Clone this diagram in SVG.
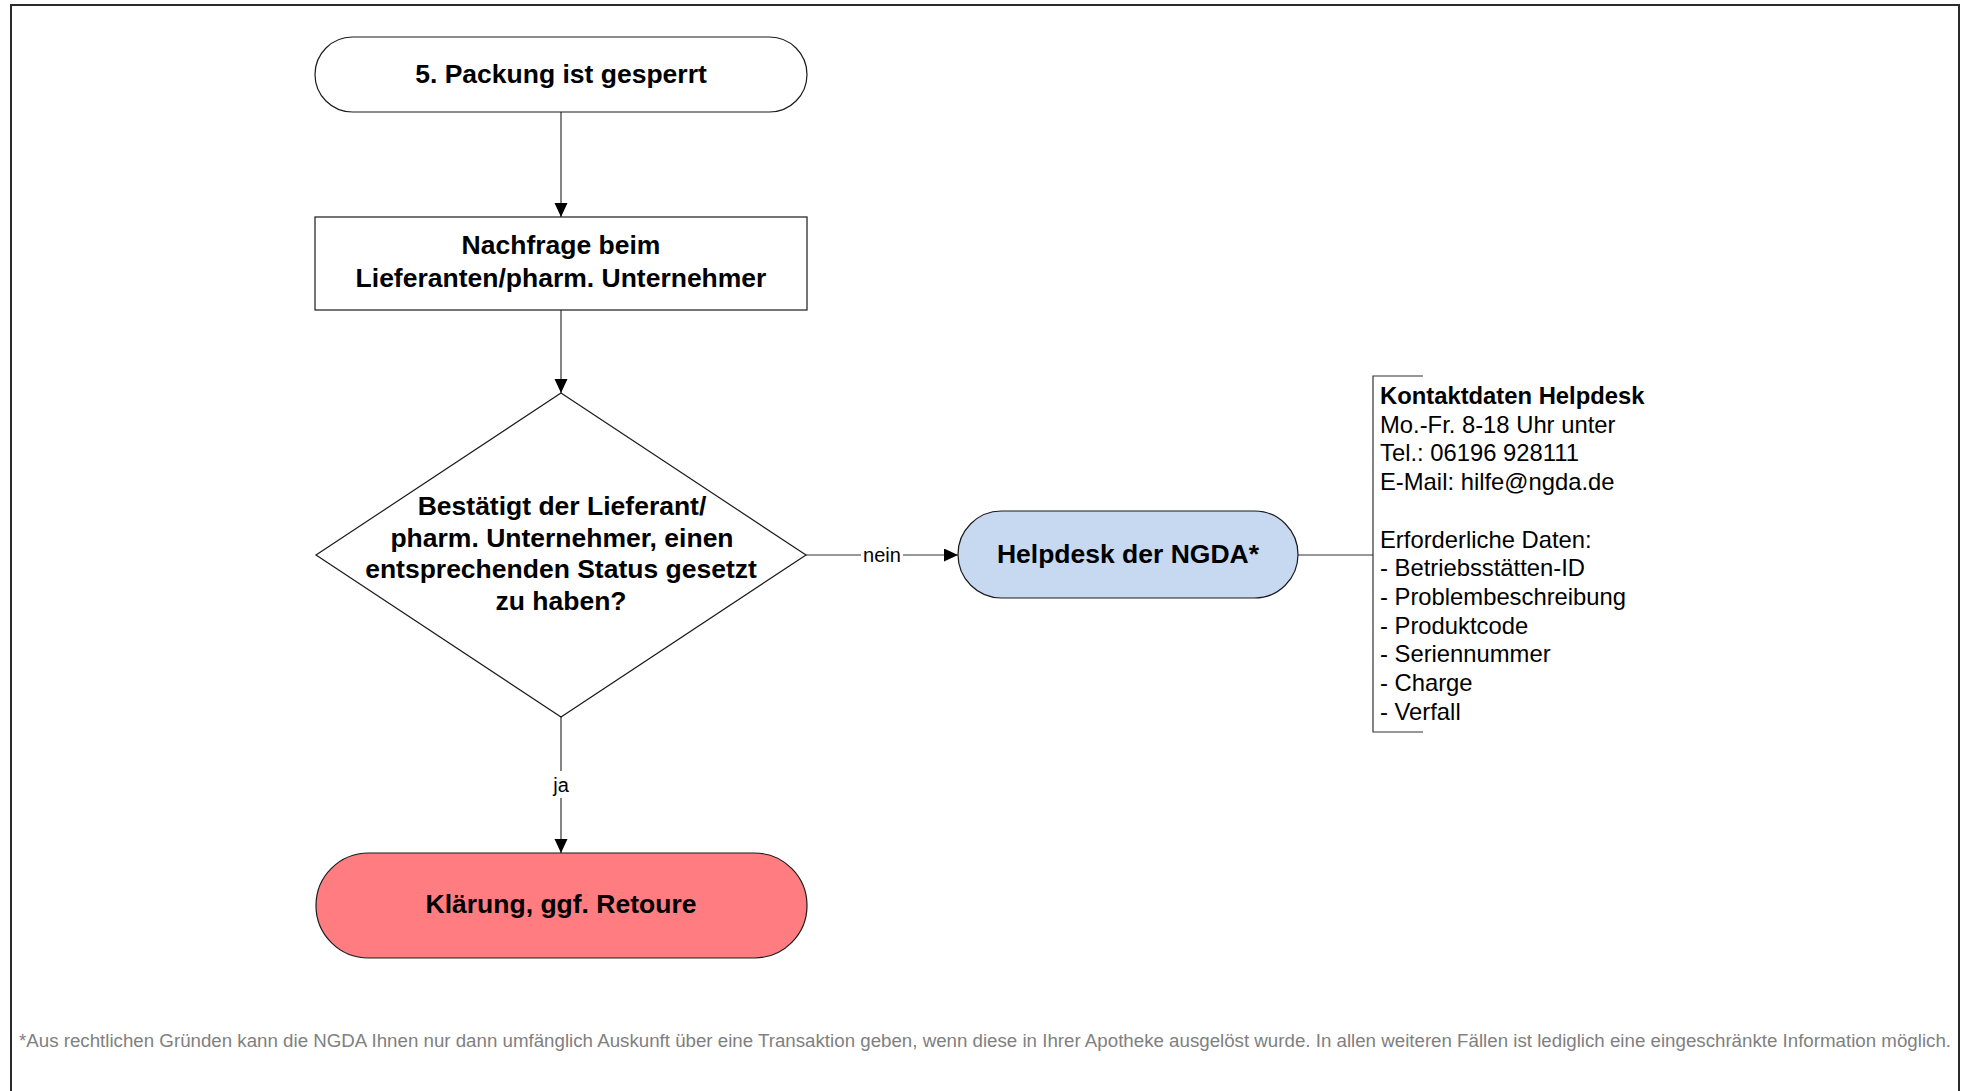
<svg xmlns="http://www.w3.org/2000/svg" width="1964" height="1091" viewBox="0 0 1964 1091">
  <style>
    .shape { stroke: #1a1a1a; stroke-width: 1.2; }
    .conn { fill: none; stroke: #333; stroke-width: 1.2; }
    .bold { font-family: "Liberation Sans", Arial, sans-serif; font-weight: bold; font-size: 26.5px; fill: #000; text-anchor: middle; }
    .lbl { font-family: "Liberation Sans", Arial, sans-serif; font-size: 20px; fill: #000; text-anchor: middle; }
    .note { font-family: "Liberation Sans", Arial, sans-serif; font-size: 23.8px; fill: #000; }
    .foot { font-family: "Liberation Sans", Arial, sans-serif; font-size: 17.5px; fill: #808080; }
  </style>
  <defs>
    <marker id="arrow" markerUnits="userSpaceOnUse" markerWidth="15" markerHeight="15" refX="14" refY="6.5" orient="auto">
      <path d="M0,0 L14,6.5 L0,13 z" fill="#000"/>
    </marker>
  </defs>
  <rect width="1964" height="1091" fill="#fff"/>
  <rect x="11" y="5" width="1948" height="1100" fill="none" stroke="#2b2b2b" stroke-width="2"/>

  <g id="connectors">
    <path class="conn" d="M561,112 L561,217" marker-end="url(#arrow)"/>
    <path class="conn" d="M561,310 L561,393" marker-end="url(#arrow)"/>
    <path class="conn" d="M806,555 L958,555" marker-end="url(#arrow)"/>
    <rect x="861" y="542" width="42" height="26" fill="#fff"/>
    <text class="lbl" x="882" y="562">nein</text>
    <path class="conn" d="M561,717 L561,853" marker-end="url(#arrow)"/>
    <rect x="548" y="771" width="26" height="27" fill="#fff"/>
    <text class="lbl" x="561" y="792">ja</text>
    <path class="conn" d="M1298,555 L1373,555"/>
  </g>

  <g id="start">
    <rect class="shape" x="315" y="37" width="492" height="75" rx="37.5" fill="#fff"/>
    <text class="bold" x="561" y="83">5. Packung ist gesperrt</text>
  </g>

  <g id="nachfrage">
    <rect class="shape" x="315" y="217" width="492" height="93" fill="#fff"/>
    <text class="bold" x="561" y="254">Nachfrage beim</text>
    <text class="bold" x="561" y="287">Lieferanten/pharm. Unternehmer</text>
  </g>

  <g id="entscheidung">
    <polygon class="shape" points="561,393 806,555 561,717 316,555" fill="#fff"/>
    <text class="bold" x="562" y="515">Bestätigt der Lieferant/</text>
    <text class="bold" x="562" y="547">pharm. Unternehmer, einen</text>
    <text class="bold" x="561" y="578">entsprechenden Status gesetzt</text>
    <text class="bold" x="561" y="610">zu haben?</text>
  </g>

  <g id="helpdesk">
    <rect class="shape" x="958" y="511" width="340" height="87" rx="43.5" fill="#c6d9f0"/>
    <text class="bold" x="1128" y="563">Helpdesk der NGDA*</text>
  </g>

  <g id="klaerung">
    <rect class="shape" x="316" y="853" width="491" height="105" rx="52.5" fill="#ff7c80"/>
    <text class="bold" x="561" y="913">Klärung, ggf. Retoure</text>
  </g>

  <g id="kontaktdaten">
    <path class="conn" d="M1423,376 L1373,376 L1373,732 L1423,732"/>
    <text class="note" x="1380" y="404" font-weight="bold">Kontaktdaten Helpdesk</text>
    <text class="note" x="1380" y="432.7">Mo.-Fr. 8-18 Uhr unter</text>
    <text class="note" x="1380" y="461.4">Tel.: 06196 928111</text>
    <text class="note" x="1380" y="490.1">E-Mail: hilfe@ngda.de</text>
    <text class="note" x="1380" y="547.5">Erforderliche Daten:</text>
    <text class="note" x="1380" y="576.2">- Betriebsstätten-ID</text>
    <text class="note" x="1380" y="604.9">- Problembeschreibung</text>
    <text class="note" x="1380" y="633.6">- Produktcode</text>
    <text class="note" x="1380" y="662.3">- Seriennummer</text>
    <text class="note" x="1380" y="691">- Charge</text>
    <text class="note" x="1380" y="719.7">- Verfall</text>
  </g>

  <text class="foot" x="19" y="1047" textLength="1932" lengthAdjust="spacingAndGlyphs">*Aus rechtlichen Gründen kann die NGDA Ihnen nur dann umfänglich Auskunft über eine Transaktion geben, wenn diese in Ihrer Apotheke ausgelöst wurde. In allen weiteren Fällen ist lediglich eine eingeschränkte Information möglich.</text>
</svg>
